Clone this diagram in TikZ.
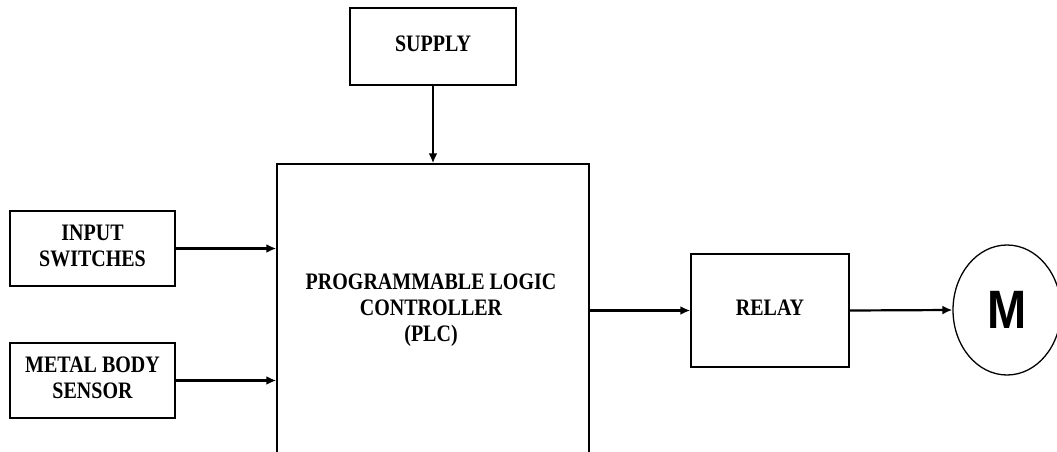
\documentclass[tikz,border=0pt]{standalone}
\usepackage{fontspec}
\usepackage{graphicx}
\setmainfont{Liberation Serif}
\newfontfamily\msans{Liberation Sans}
\usetikzlibrary{shapes.geometric,arrows.meta}
\newcommand{\stx}[1]{\scalebox{1}[1.18]{\fontsize{20}{22}\selectfont\bfseries\begin{tabular}{@{}c@{}}#1\end{tabular}}}
\tikzset{
  blk/.style={draw, line width=1.5pt, inner sep=0pt, rectangle},
  txt/.style={inner sep=0pt, align=center},
  arr/.style={line width=2.2pt, -{Latex[length=10pt,width=9pt]}},
}
\begin{document}
\begin{tikzpicture}[x=1pt,y=-1pt]
\useasboundingbox (0,0) rectangle (1057,452);
\fill[white] (0,0) rectangle (1057,452);
\clip (0,0) rectangle (1057,452);
\node[blk, minimum width=166pt, minimum height=77pt] (supply) at (433,46.5) {\stx{SUPPLY}};
\node[blk, minimum width=312pt, minimum height=316pt] (plc) at (433,322) {};
\node[txt] (plctext) at (431,310) {\stx{PROGRAMMABLE LOGIC\\CONTROLLER\\(PLC)}};
\node[blk, minimum width=165pt, minimum height=75pt] (inp) at (92.5,248.5) {\stx{INPUT\\SWITCHES}};
\node[blk, minimum width=165pt, minimum height=75pt] (met) at (92.5,380.5) {\stx{METAL BODY\\SENSOR}};
\node[blk, minimum width=158pt, minimum height=113pt] (relay) at (770,310.5) {\stx{RELAY}};
\node[draw, line width=1.3pt, ellipse, inner sep=0pt, minimum width=108pt, minimum height=130pt] (m) at (1007,310) {\scalebox{1}[1.15]{\msans\fontsize{47}{50}\selectfont\bfseries M}};
\draw[arr] (supply.south) -- (supply.south |- plc.north);
\draw[arr] (inp.east) -- (inp.east -| plc.west);
\draw[arr] (met.east) -- (met.east -| plc.west);
\draw[arr] (plc.east |- relay.west) -- (relay.west);
\draw[arr] (relay.east) -- (m.west);
\end{tikzpicture}
\end{document}
